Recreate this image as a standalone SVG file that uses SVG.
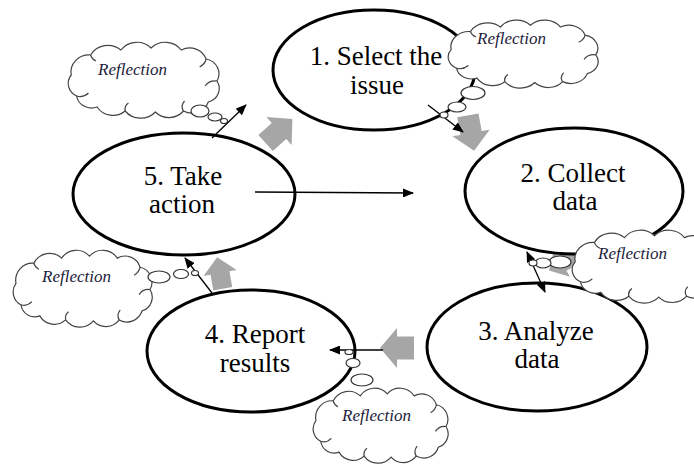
<svg xmlns="http://www.w3.org/2000/svg" xmlns:xlink="http://www.w3.org/1999/xlink" width="694" height="464" viewBox="0 0 694 464">
<style>
.step{fill:#fff;stroke:#000;stroke-width:3}
.lbl{font-family:'Liberation Serif','Times New Roman',Times,Tinos,'Noto Serif','DejaVu Serif',FreeSerif,serif;font-size:27px;fill:#000;text-anchor:middle}
.refl{font-family:'Liberation Serif','Times New Roman',Times,Tinos,'Noto Serif','DejaVu Serif',FreeSerif,serif;font-style:italic;font-size:17px;fill:#1c1c3a}
.cloud path{fill:#fff;stroke:#444;stroke-width:1.2;vector-effect:non-scaling-stroke}
.cloud path.in{fill:none}
.bub{fill:#fff;stroke:#333;stroke-width:1.2}
.fat{fill:#a6a6a6}
.thin{stroke:#000;stroke-width:1.3;fill:none;marker-end:url(#ah)}
</style>
<defs>
<marker id="ah" markerUnits="userSpaceOnUse" markerWidth="11" markerHeight="9" refX="10" refY="4.5" orient="auto-start-reverse">
<path d="M0,0 L11,4.5 L0,9 Z" fill="#000"/>
</marker>
<g id="cloud" class="cloud">
<path d="M3,34 A17,17 0 0 1 21,14 A18,18 0 0 1 49,9 A18,18 0 0 1 77,7 A18,18 0 0 1 105,9 A16,16 0 0 1 128,18 A15,15 0 0 1 138,40 A14,14 0 0 1 130,61 A16,16 0 0 1 107,70 A17,17 0 0 1 81,71 A18,18 0 0 1 53,70 A17,17 0 0 1 27,66 A14,14 0 0 1 8,55 A14,14 0 0 1 3,34 Z"/>
<path class="in" d="M8,55 q6,2 11,-3 M53,70 q-1,-5 3,-8 M107,70 q-3,-5 1,-10 M138,40 q-7,-1 -11,5 M128,18 q-1,5 -6,8 M21,14 q1,4 5,6"/>
</g>
<path id="barrow" d="M-20,-12 L0,-12 L0,-21 L20,0 L0,21 L0,12 L-20,12 Z"/>
</defs>

<g id="fat-arrows">
<use xlink:href="#barrow" class="fat" transform="translate(279,131) rotate(-42) scale(0.9)"/>
<use xlink:href="#barrow" class="fat" transform="translate(471,133) rotate(80) scale(0.9)"/>
<use xlink:href="#barrow" class="fat" transform="translate(562,263) rotate(150) scale(0.75)"/>
<use xlink:href="#barrow" class="fat" transform="translate(397,348) rotate(180) scale(0.85,0.95)"/>
<use xlink:href="#barrow" class="fat" transform="translate(220,273) rotate(-100) scale(0.8)"/>
</g>

<g id="step1"><ellipse class="step" cx="374" cy="70" rx="101" ry="60"/><text class="lbl" x="376" y="65">1. Select the</text><text class="lbl" x="377" y="94">issue</text></g>
<g id="step2"><ellipse class="step" cx="574" cy="191" rx="109" ry="63"/><text class="lbl" x="573" y="182">2. Collect</text><text class="lbl" x="575" y="210">data</text></g>
<g id="step3"><ellipse class="step" cx="537" cy="347" rx="110" ry="64"/><text class="lbl" x="536" y="340">3. Analyze</text><text class="lbl" x="537" y="368">data</text></g>
<g id="step4"><ellipse class="step" cx="251" cy="351" rx="104" ry="61"/><text class="lbl" x="255" y="343">4. Report</text><text class="lbl" x="255" y="372">results</text></g>
<g id="step5"><ellipse class="step" cx="184" cy="194" rx="111" ry="61"/><text class="lbl" x="183" y="185">5. Take</text><text class="lbl" x="182" y="213">action</text></g>

<g id="connectors">
<line class="thin" x1="212" y1="138" x2="246" y2="105"/>
<line class="thin" x1="428" y1="105" x2="463" y2="132"/>
<line class="thin" x1="527" y1="252" x2="545" y2="292" style="marker-start:url(#ah)"/>
<line class="thin" x1="383" y1="350" x2="330" y2="350"/>
<line class="thin" x1="212" y1="293" x2="185" y2="258"/>
<line class="thin" x1="255" y1="192" x2="413" y2="193"/>
</g>

<g id="reflection-a">
<use xlink:href="#cloud" transform="translate(68,41) scale(1.079,1.0)"/>
<ellipse class="bub" cx="200" cy="111" rx="9" ry="6"/>
<ellipse class="bub" cx="215" cy="117" rx="7" ry="4"/>
<ellipse class="bub" cx="224" cy="121" rx="3.5" ry="2.5"/>
<text class="refl" x="98" y="75">Reflection</text>
</g>
<g id="reflection-b">
<use xlink:href="#cloud" transform="translate(448,19) scale(1.071,0.895)"/>
<ellipse class="bub" cx="473" cy="93" rx="12" ry="6.5"/>
<ellipse class="bub" cx="457" cy="107" rx="9" ry="5"/>
<ellipse class="bub" cx="444" cy="115" rx="4" ry="3"/>
<text class="refl" x="477" y="44">Reflection</text>
</g>
<g id="reflection-c">
<use xlink:href="#cloud" transform="translate(572,229) scale(1.071,0.96)"/>
<ellipse class="bub" cx="560" cy="262" rx="11" ry="6"/>
<ellipse class="bub" cx="543" cy="263" rx="8" ry="5"/>
<ellipse class="bub" cx="533" cy="263" rx="4" ry="3"/>
<text class="refl" x="598" y="259">Reflection</text>
</g>
<g id="reflection-d">
<use xlink:href="#cloud" transform="translate(13,249) scale(0.993,1.013)"/>
<ellipse class="bub" cx="159" cy="277" rx="11" ry="6"/>
<ellipse class="bub" cx="181" cy="274" rx="7.5" ry="4.5"/>
<ellipse class="bub" cx="195" cy="273" rx="3.5" ry="2.5"/>
<text class="refl" x="42" y="282">Reflection</text>
</g>
<g id="reflection-e">
<use xlink:href="#cloud" transform="translate(313,387) scale(0.964,0.987)"/>
<ellipse class="bub" cx="362" cy="380" rx="11" ry="6"/>
<ellipse class="bub" cx="353" cy="363" rx="7" ry="4.5"/>
<ellipse class="bub" cx="349" cy="352" rx="4" ry="2.5"/>
<text class="refl" x="342" y="421">Reflection</text>
</g>
</svg>
